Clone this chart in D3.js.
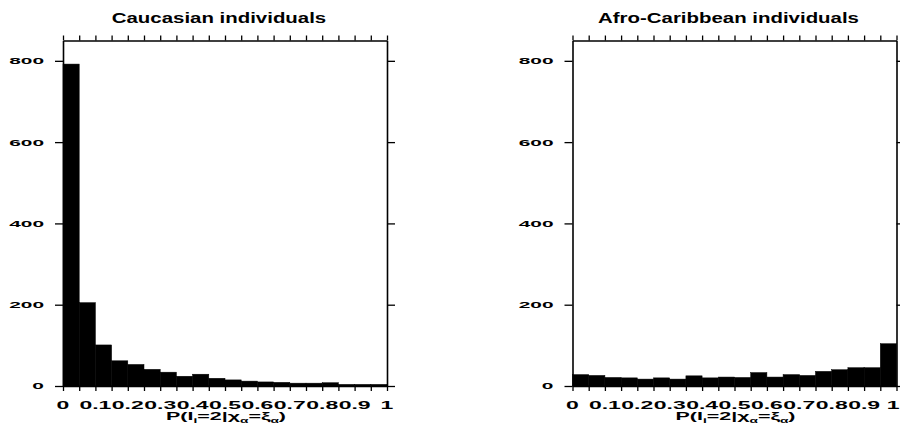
<!DOCTYPE html>
<html>
<head>
<meta charset="utf-8">
<script src="https://cdn.jsdelivr.net/npm/d3@7"></script>
<style>
  html, body { margin: 0; padding: 0; background: #fff; }
  svg { display: block; }
  text { font-family: "Liberation Sans", Arial, Helvetica, sans-serif; font-weight: bold; fill: #000; }
</style>
</head>
<body>
<svg id="chart" width="900" height="430"></svg>
<script>
// ---- data ----
const binStarts = [0, 0.05, 0.1, 0.15, 0.2, 0.25, 0.3, 0.35, 0.4, 0.45,
                   0.5, 0.55, 0.6, 0.65, 0.7, 0.75, 0.8, 0.85, 0.9, 0.95];
const binWidth = 0.05;
const caucasianCounts = [792, 205, 101, 62, 53, 41, 34, 24, 29, 19,
                         15, 12, 10, 9, 7, 7, 8, 4, 4, 4];
const afroCaribbeanCounts = [28, 26, 21, 20, 17, 20, 17, 25, 20, 22,
                             21, 33, 22, 28, 26, 36, 40, 45, 45, 104];
const xTickValues = [0, 0.1, 0.2, 0.3, 0.4, 0.5, 0.6, 0.7, 0.8, 0.9, 1];
const xTickLabels = ["0", "0.1", "0.2", "0.3", "0.4", "0.5", "0.6", "0.7", "0.8", "0.9", "1"];
const xMinorTicks = [0, 0.05, 0.1, 0.15, 0.2, 0.25, 0.3, 0.35, 0.4, 0.45, 0.5,
                     0.55, 0.6, 0.65, 0.7, 0.75, 0.8, 0.85, 0.9, 0.95, 1];
const yTickValues = [0, 200, 400, 600, 800];
const yTickLabels = ["0", "200", "400", "600", "800"];
const panelTitles = ["Caucasian individuals", "Afro-Caribbean individuals"];
const yMax = 850;

// ---- layout ----
const svg = d3.select("#chart");
const panels = [
  { left: 63, values: caucasianCounts, title: panelTitles[0] },
  { left: 572.5, values: afroCaribbeanCounts, title: panelTitles[1] }
];
const plotW = 324, plotTop = 40.5, plotBottom = 386;

panels.forEach(p => {
  const x = d3.scaleLinear().domain([0, 1]).range([p.left, p.left + plotW]);
  const y = d3.scaleLinear().domain([0, yMax]).range([plotBottom, plotTop]);
  const g = svg.append("g");

  // bars
  g.selectAll("rect.bar").data(binStarts).join("rect")
    .attr("class", "bar")
    .attr("x", d => x(d))
    .attr("width", d => x(d + binWidth) - x(d))
    .attr("y", (d, i) => y(p.values[i]))
    .attr("height", (d, i) => y(0) - y(p.values[i]))
    .attr("fill", "#000")
    .attr("stroke", "#000")
    .attr("stroke-width", 0.5);

  // axes (ticks only, labels drawn separately)
  const axB = d3.axisBottom(x).tickValues(xMinorTicks).tickSize(5).tickSizeOuter(0).tickFormat("");
  const axT = d3.axisTop(x).tickValues(xMinorTicks).tickSize(5).tickSizeOuter(0).tickFormat("");
  const axL = d3.axisLeft(y).tickValues(yTickValues).tickSize(8).tickSizeOuter(0).tickFormat("");
  const axR = d3.axisRight(y).tickValues(yTickValues).tickSize(8).tickSizeOuter(0).tickFormat("");
  [[axB, `translate(0,${plotBottom})`], [axT, `translate(0,${plotTop})`],
   [axL, `translate(${p.left},0)`], [axR, `translate(${p.left + plotW},0)`]].forEach(([ax, tr]) => {
    const a = g.append("g").attr("transform", tr).call(ax);
    a.selectAll("path.domain").attr("stroke", "#000").attr("stroke-width", 1.6);
    a.selectAll("line").attr("stroke", "#000").attr("stroke-width", 1.3);
  });

  // x tick labels (wide, squat lettering as in the reference)
  const xSx = 2.3, xFs = 10;
  g.selectAll("text.xl").data(xTickValues).join("text")
    .attr("class", "xl")
    .attr("font-size", xFs)
    .attr("text-anchor", d => (x(d) + 6 > 899 ? "end" : "middle"))
    .attr("transform", d => {
      const px = x(d) + 6 > 899 ? 899.5 : x(d);
      return `translate(${px},408.5) scale(${xSx},1)`;
    })
    .text((d, i) => xTickLabels[i]);

  // y tick labels
  g.selectAll("text.yl").data(yTickValues).join("text")
    .attr("class", "yl")
    .attr("text-anchor", "end")
    .attr("font-size", 9.5)
    .attr("dy", "0.36em")
    .attr("transform", d => `translate(${p.left - 19},${y(d)}) scale(2.2,1)`)
    .text((d, i) => yTickLabels[i]);

  // title
  g.append("text")
    .attr("text-anchor", "middle")
    .attr("font-size", 14)
    .attr("transform", `translate(${p.left + plotW / 2 - 6},23) scale(1.46,1)`)
    .text(p.title);

  // x axis title
  const t = g.append("text")
    .attr("text-anchor", "middle")
    .attr("font-size", 11)
    .attr("transform", `translate(${p.left + plotW / 2 + 1},420) scale(1.95,1)`);
  t.append("tspan").text("P(I");
  t.append("tspan").attr("font-size", 7).attr("dy", 2.5).text("i");
  t.append("tspan").attr("dy", -2.5).text("=2|χ");
  t.append("tspan").attr("font-size", 7).attr("dy", 2.5).text("α");
  t.append("tspan").attr("dy", -2.5).text("=ξ");
  t.append("tspan").attr("font-size", 7).attr("dy", 2.5).text("α");
  t.append("tspan").attr("dy", -2.5).text(")");
});
</script>
</body>
</html>
